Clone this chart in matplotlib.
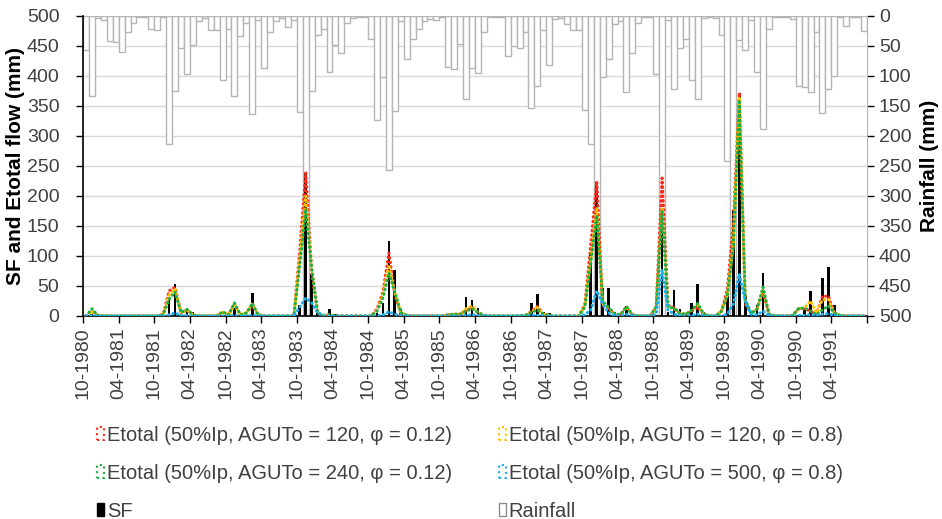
import numpy as np
import matplotlib.pyplot as plt
from matplotlib.patches import Patch

plt.rcParams['font.family'] = ['Liberation Sans', 'DejaVu Sans']

# monthly series, Oct-1980 .. Sep-1991 (one row = one Oct-Sep year)
rain = [57, 134, 4, 7, 41, 44, 60, 27, 12, 2, 2, 22,
        23, 2, 214, 125, 54, 96, 49, 8, 4, 23, 23, 107,
        22, 134, 34, 12, 163, 7, 86, 26, 9, 4, 19, 7,
        160, 500, 125, 31, 21, 93, 48, 61, 11, 3, 1, 1,
        38, 173, 102, 256, 158, 9, 71, 38, 22, 9, 5, 6,
        2, 85, 89, 47, 139, 87, 95, 27, 2, 2, 2, 67,
        50, 54, 27, 154, 116, 23, 82, 5, 4, 13, 23, 23,
        156, 214, 500, 101, 72, 13, 9, 126, 61, 12, 2, 2,
        97, 500, 7, 122, 54, 39, 107, 139, 4, 2, 4, 32,
        241, 500, 40, 56, 7, 94, 189, 22, 2, 2, 2, 5,
        116, 119, 127, 26, 161, 122, 100, 2, 17, 2, 2, 25]

sf = [1, 3, 2, 2, 2, 2, 2, 2, 2, 1, 1, 1,
      1, 1, 30, 53, 5, 10, 7, 2, 2, 2, 1, 2,
      1, 13, 1, 2, 38, 3, 2, 2, 2, 1, 1, 1,
      18, 239, 70, 5, 1, 11, 3, 2, 2, 2, 2, 1,
      1, 5, 22, 125, 76, 12, 3, 1, 1, 1, 1, 1,
      1, 1, 2, 2, 32, 27, 14, 2, 1, 1, 1, 1,
      1, 1, 2, 22, 37, 7, 5, 1, 1, 1, 1, 1,
      2, 106, 224, 47, 47, 7, 1, 16, 2, 1, 1, 1,
      2, 177, 7, 43, 11, 5, 21, 53, 7, 1, 1, 2,
      33, 176, 372, 33, 3, 18, 71, 3, 1, 1, 1, 1,
      2, 14, 41, 5, 63, 81, 18, 2, 2, 1, 1, 1]

et_120_012 = [0, 8, 1, 0, 0, 0, 0, 0, 0, 0, 0, 0,
              0, 3, 42, 48, 5, 10, 2, 0, 0, 0, 0, 6,
              2, 20, 2, 5, 18, 2, 0, 0, 0, 0, 0, 0,
              110, 239, 75, 5, 1, 2, 0, 0, 0, 0, 0, 0,
              0, 12, 40, 105, 35, 5, 1, 0, 0, 0, 0, 0,
              0, 2, 3, 3, 10, 15, 5, 1, 0, 0, 0, 0,
              0, 0, 1, 8, 16, 3, 1, 0, 0, 0, 0, 0,
              20, 120, 224, 18, 12, 3, 2, 15, 2, 0, 0, 0,
              15, 230, 18, 14, 4, 3, 8, 15, 3, 0, 0, 8,
              45, 155, 372, 20, 4, 12, 40, 3, 0, 0, 0, 1,
              12, 12, 8, 3, 33, 33, 5, 1, 0, 0, 0, 0]

et_120_08 = [0, 8, 1, 0, 0, 0, 0, 0, 0, 0, 0, 0,
             0, 2, 35, 45, 5, 10, 2, 0, 0, 0, 0, 6,
             2, 18, 2, 5, 20, 2, 0, 0, 0, 0, 0, 0,
             95, 200, 80, 5, 1, 2, 0, 0, 0, 0, 0, 0,
             0, 10, 35, 85, 40, 6, 1, 0, 0, 0, 0, 0,
             0, 2, 3, 3, 12, 17, 6, 1, 0, 0, 0, 0,
             0, 0, 1, 7, 14, 3, 1, 0, 0, 0, 0, 0,
             18, 95, 180, 20, 13, 3, 2, 15, 2, 0, 0, 0,
             15, 180, 15, 12, 4, 3, 10, 18, 3, 0, 0, 8,
             35, 120, 365, 25, 4, 12, 45, 3, 0, 0, 0, 1,
             12, 14, 25, 5, 27, 28, 5, 1, 0, 0, 0, 0]

et_240_012 = [0, 12, 1, 0, 0, 0, 0, 0, 0, 0, 0, 0,
              0, 2, 28, 40, 6, 11, 2, 0, 0, 0, 0, 7,
              2, 22, 2, 5, 21, 2, 0, 0, 0, 0, 0, 0,
              85, 178, 80, 5, 1, 2, 0, 0, 0, 0, 0, 0,
              0, 8, 30, 72, 40, 6, 1, 0, 0, 0, 0, 0,
              0, 2, 3, 3, 8, 12, 6, 1, 0, 0, 0, 0,
              0, 0, 1, 6, 10, 3, 1, 0, 0, 0, 0, 0,
              15, 90, 168, 25, 14, 4, 2, 16, 2, 0, 0, 0,
              15, 175, 15, 13, 4, 3, 10, 21, 3, 0, 0, 8,
              35, 115, 360, 28, 4, 12, 48, 3, 0, 0, 0, 1,
              13, 13, 8, 2, 10, 17, 5, 1, 0, 0, 0, 0]

et_500_08 = [0, 1, 0, 0, 0, 0, 0, 0, 0, 0, 0, 0,
             0, 0, 2, 5, 1, 1, 0, 0, 0, 0, 0, 0,
             0, 1, 0, 0, 1, 0, 0, 0, 0, 0, 0, 0,
             15, 30, 22, 5, 1, 0, 0, 0, 0, 0, 0, 0,
             0, 0, 2, 7, 3, 1, 0, 0, 0, 0, 0, 0,
             0, 0, 0, 0, 1, 2, 1, 0, 0, 0, 0, 0,
             0, 0, 0, 1, 1, 0, 0, 0, 0, 0, 0, 0,
             2, 10, 42, 20, 5, 1, 0, 3, 1, 0, 0, 0,
             3, 77, 10, 3, 1, 0, 1, 3, 1, 0, 0, 0,
             3, 20, 70, 25, 3, 2, 8, 1, 0, 0, 0, 0,
             1, 1, 2, 1, 3, 4, 1, 0, 0, 0, 0, 0]

tick_labels = ['10-1980', '04-1981', '10-1981', '04-1982', '10-1982', '04-1983',
               '10-1983', '04-1984', '10-1984', '04-1985', '10-1985', '04-1986',
               '10-1986', '04-1987', '10-1987', '04-1988', '10-1988', '04-1989',
               '10-1989', '04-1990', '10-1990', '04-1991', '']

lines = [
    (et_120_012, '#FF2A1A', 'Etotal (50%Ip, AGUTo = 120, φ = 0.12)'),
    (et_120_08, '#FFC000', 'Etotal (50%Ip, AGUTo = 120, φ = 0.8)'),
    (et_240_012, '#1DB040', 'Etotal (50%Ip, AGUTo = 240, φ = 0.12)'),
    (et_500_08, '#1AB0F0', 'Etotal (50%Ip, AGUTo = 500, φ = 0.8)'),
]

x = np.arange(len(rain)) + 0.5
txt = '#404040'
fs = 14

fig = plt.figure(figsize=(9.42, 5.19), dpi=100)
ax = fig.add_axes([83 / 942, 1 - 316 / 519, 784 / 942, 300 / 519])
ax2 = ax.twinx()
ax.set_zorder(ax2.get_zorder() + 1)
ax.patch.set_visible(False)

# rainfall hanging from the top (secondary axis, inverted)
ax2.bar(x, rain, width=1.0, color='white', edgecolor='#B4B4B4', linewidth=1.0)
ax2.set_ylim(500, 0)
ax2.set_yticks(np.arange(0, 501, 50))
ax2.set_axisbelow(True)
ax2.grid(True, color='#D9D9D9', linewidth=1.0)

ax.bar(x, sf, width=0.45, color='black', zorder=2)
for vals, c, lab in lines:
    ax.plot(x, vals, color=c, linewidth=2.2, linestyle=(0, (0.2, 1.3)),
            dash_capstyle='round', zorder=3)

ax.set_xlim(0, len(rain))
ax.set_ylim(0, 500)
ax.set_yticks(np.arange(0, 501, 50))
ax.set_xticks(np.arange(0, len(rain) + 1, 6))
ax.set_xticklabels(tick_labels, rotation=90)

for a in (ax, ax2):
    a.tick_params(axis='both', labelsize=fs, labelcolor=txt, color='black',
                  direction='out', length=5, width=1)
    a.spines['top'].set_visible(False)
ax.tick_params(axis='y', pad=12)
ax.spines['right'].set_visible(False)
ax2.spines['left'].set_visible(False)
ax2.spines['bottom'].set_visible(False)
ax2.spines['right'].set_color('#B4B4B4')
ax.spines['left'].set_linewidth(1.2)
ax.spines['bottom'].set_linewidth(1.2)
ax.tick_params(axis='x', pad=3)

ax.set_ylabel('SF and Etotal flow (mm)', fontsize=15, fontweight='bold', labelpad=1)
ax2.set_ylabel('Rainfall (mm)', fontsize=15, fontweight='bold', labelpad=6)

handles = [Patch(facecolor='none', edgecolor=c, linestyle=':', linewidth=1.5)
           for _, c, _ in lines]
labels = [lab for _, _, lab in lines]
handles += [Patch(facecolor='black', edgecolor='black'),
            Patch(facecolor='white', edgecolor='#8C8C8C', linewidth=1)]
labels += ['SF', 'Rainfall']
order = [0, 2, 4, 1, 3, 5]
fig.legend([handles[i] for i in order], [labels[i] for i in order],
           loc='upper left', bbox_to_anchor=(0.084, 0.215), ncol=2,
           frameon=False, fontsize=14.5, labelcolor=txt,
           handlelength=0.35, handleheight=0.6, handletextpad=0.15,
           columnspacing=2.3, labelspacing=0.95)

fig.savefig('out.png', dpi=100)
